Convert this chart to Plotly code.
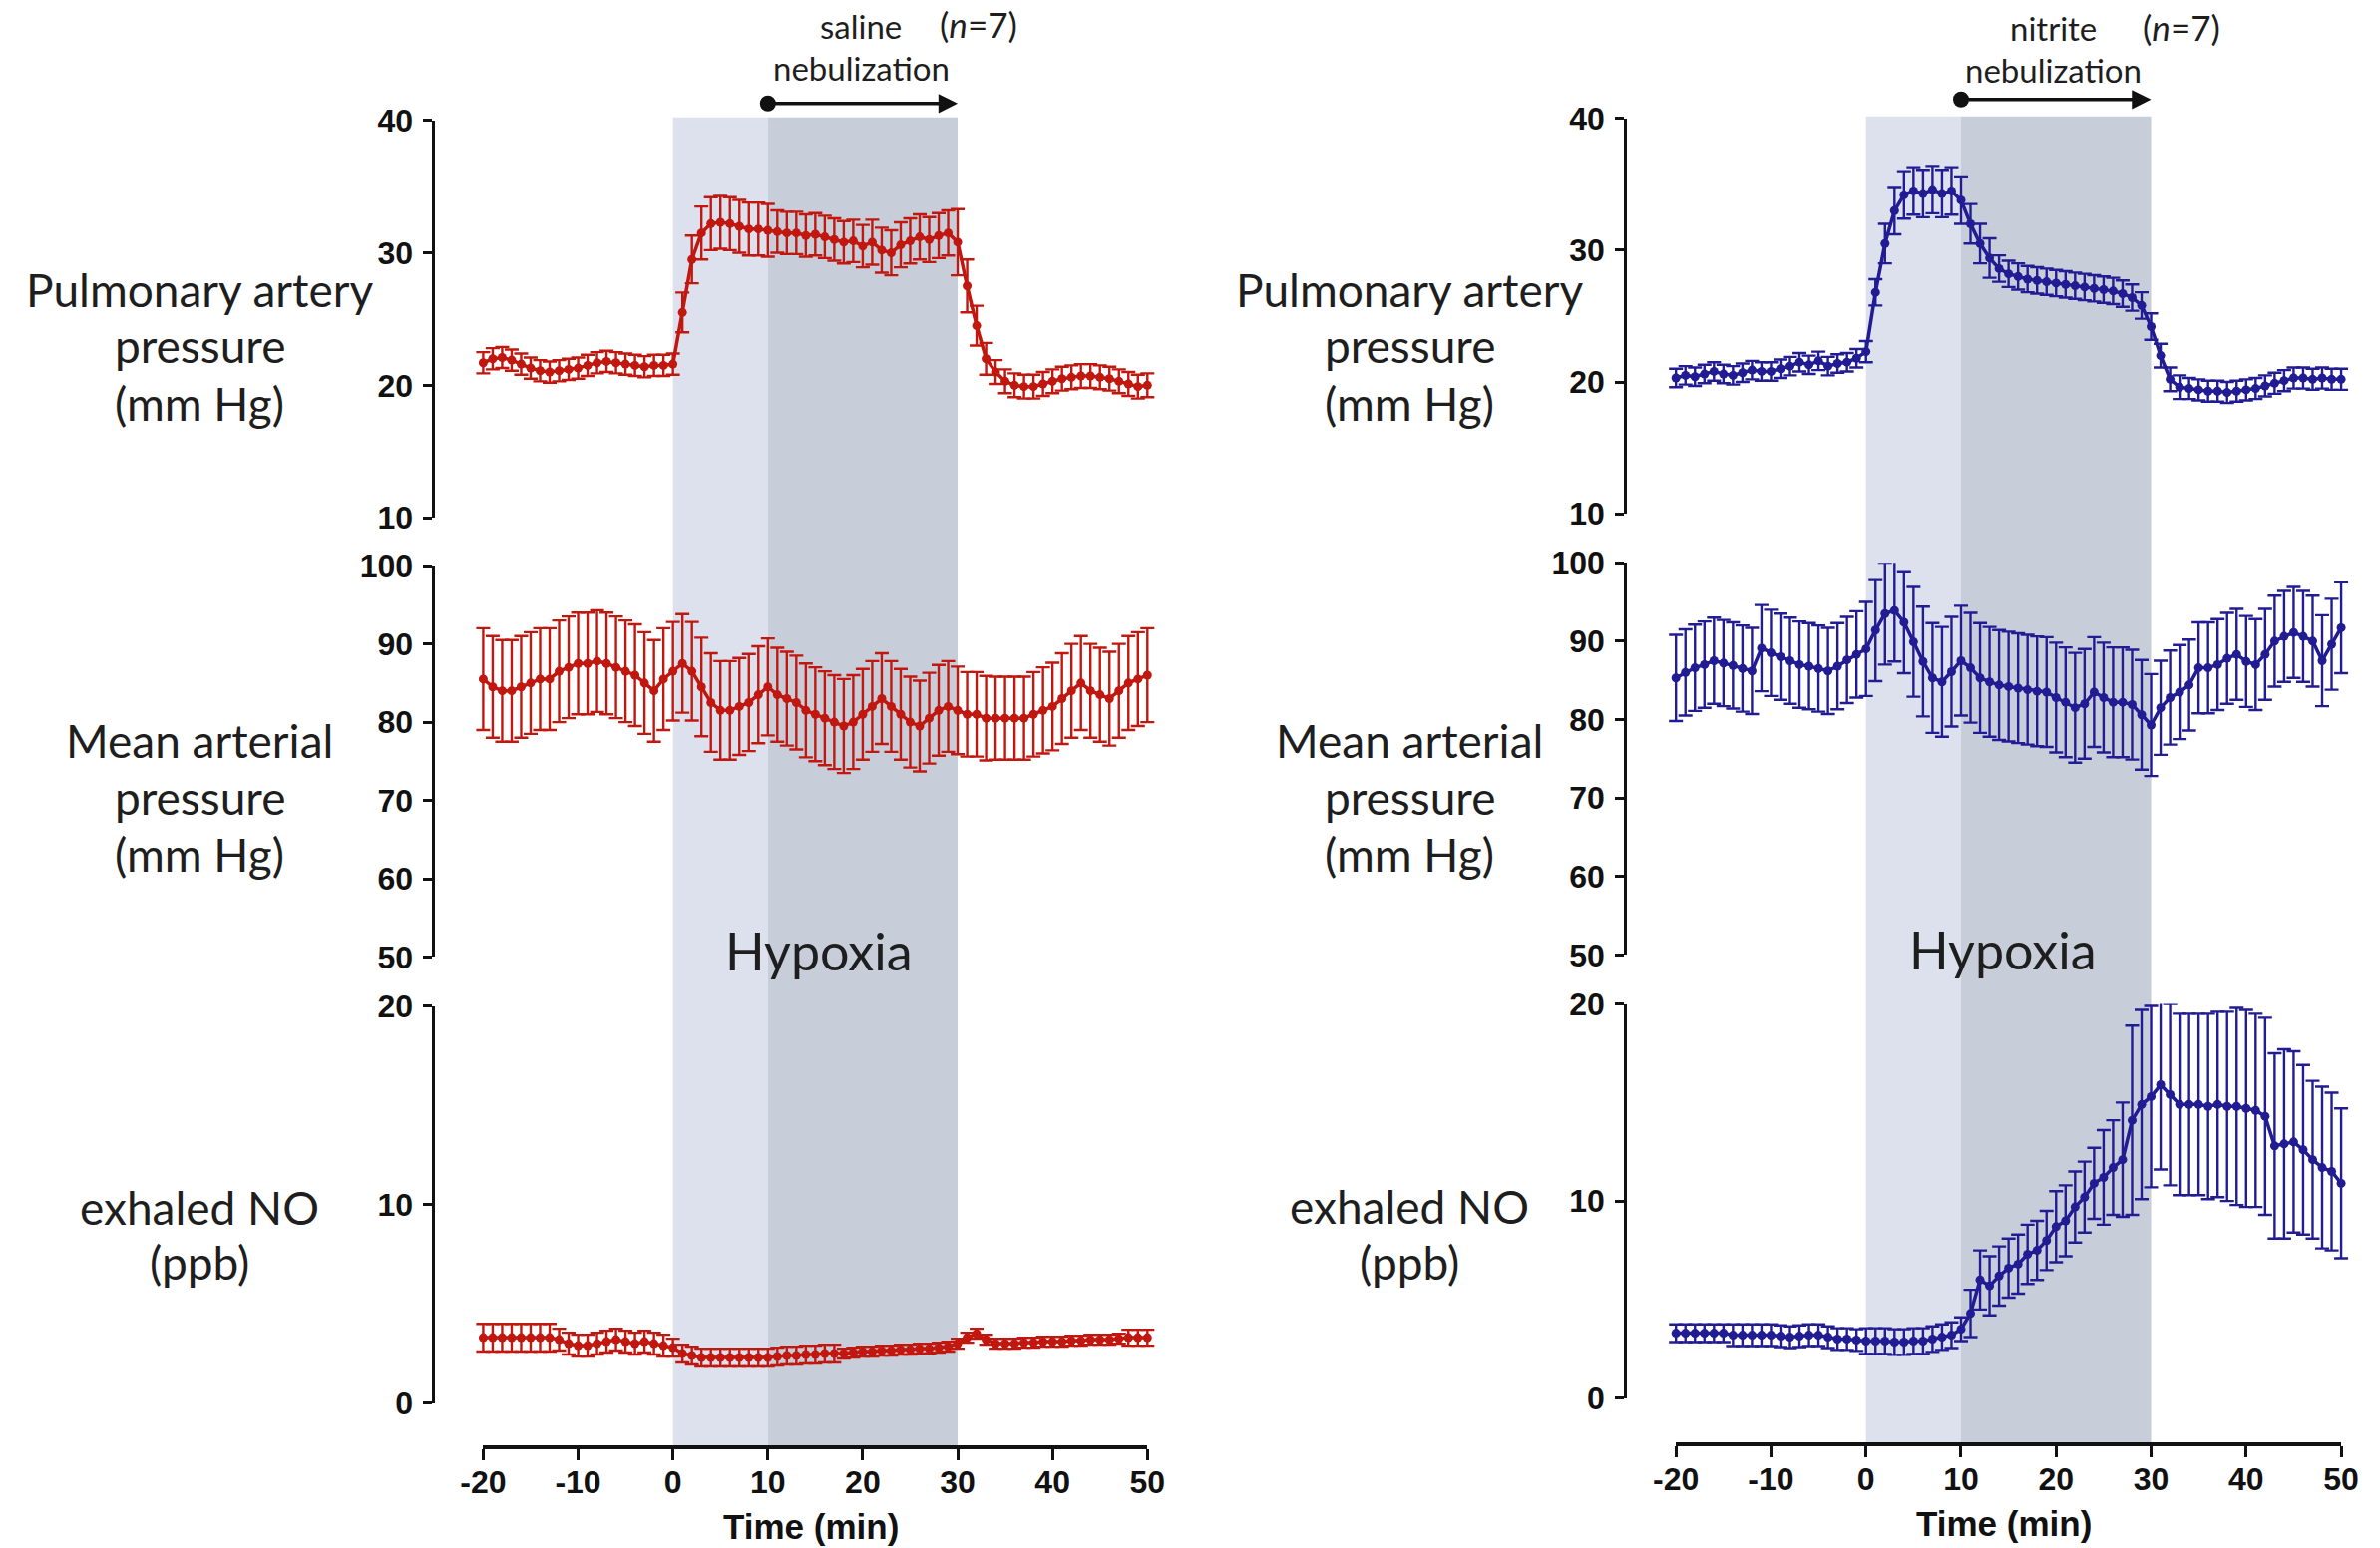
import plotly.graph_objects as go

W, H = 2386, 1552

# ---------------- data ----------------
time_min = list(range(-20, 51))
x_tick_vals = [-20, -10, 0, 10, 20, 30, 40, 50]
x_tick_text = ['-20', '-10', '0', '10', '20', '30', '40', '50']
pap_ticks = [10, 20, 30, 40]
map_ticks = [50, 60, 70, 80, 90, 100]
no_ticks = [0, 10, 20]

saline_pap = [21.7, 22.0, 22.1, 21.9, 21.6, 21.3, 21.1, 21.0, 21.1, 21.2,
              21.3, 21.5, 21.7, 21.8, 21.7, 21.6, 21.5, 21.4, 21.5, 21.5,
              21.6, 25.5, 29.5, 31.5, 32.2, 32.3, 32.2, 32.0, 31.8, 31.8, 31.7,
              31.6, 31.5, 31.5, 31.3, 31.4, 31.2, 31.0, 30.8, 30.9, 30.5,
              30.8, 30.2, 30.0, 30.6, 30.9, 31.2, 31.0, 31.3, 31.5, 30.8,
              27.5, 24.5, 22.0, 21.0, 20.3, 20.0, 19.9, 19.9, 20.1, 20.3,
              20.5, 20.6, 20.7, 20.7, 20.6, 20.5, 20.3, 20.1, 19.9, 20.0]
saline_pap_sem = [0.8, 0.8, 0.8, 0.8, 0.8, 0.8, 0.8, 0.8, 0.8, 0.8,
                  0.8, 0.8, 0.8, 0.8, 0.8, 0.8, 0.8, 0.8, 0.8, 0.8,
                  0.8, 1.5, 1.8, 2.0, 2.0, 2.0, 2.0, 2.0, 2.0, 2.0, 2.0,
                  1.6, 1.6, 1.6, 1.6, 1.6, 1.6, 1.6, 1.6, 1.6, 1.6,
                  1.7, 1.7, 1.7, 1.7, 1.7, 1.7, 1.7, 1.7, 1.7, 2.5,
                  2.0, 1.5, 1.2, 0.9, 0.9, 0.9, 0.9, 0.9, 0.9, 0.9,
                  0.9, 0.9, 0.9, 0.9, 0.9, 0.9, 0.9, 0.9, 0.9, 0.9]

saline_map = [85.5, 84.5, 84.0, 84.0, 84.5, 85.0, 85.5, 85.5, 86.5, 87.0,
              87.5, 87.5, 87.8, 87.5, 87.0, 86.5, 86.0, 85.0, 84.0, 85.5,
              86.5, 87.5, 86.5, 84.5, 82.5, 81.5, 81.5, 82.0, 82.5, 83.5, 84.5,
              83.5, 83.0, 82.5, 81.5, 81.0, 80.5, 80.0, 79.5, 80.0, 81.0,
              82.0, 83.0, 82.0, 81.0, 80.0, 79.5, 80.5, 81.5, 82.0, 81.5,
              81.0, 81.0, 80.5, 80.5, 80.5, 80.5, 80.5, 81.0, 81.5, 82.0,
              83.0, 84.0, 85.0, 84.0, 83.5, 83.0, 84.0, 85.0, 85.5, 86.0]
saline_map_sem = [6.5, 6.5, 6.5, 6.5, 6.5, 6.5, 6.5, 6.5, 6.5, 6.5,
                  6.5, 6.5, 6.5, 6.5, 6.5, 6.5, 6.5, 6.5, 6.5, 6.5,
                  6.3, 6.3, 6.3, 6.3, 6.3, 6.3, 6.3, 6.2, 6.2, 6.2, 6.2,
                  6.0, 6.0, 6.0, 6.0, 6.0, 6.0, 6.0, 6.0, 6.0, 5.8,
                  5.8, 5.8, 5.8, 5.8, 5.8, 5.8, 5.8, 5.8, 5.8, 5.6,
                  5.4, 5.4, 5.4, 5.3, 5.3, 5.3, 5.3, 5.4, 5.5, 5.6,
                  5.8, 6.0, 6.0, 6.0, 6.0, 6.0, 6.0, 6.0, 6.0, 6.0]

saline_no = [3.3, 3.3, 3.3, 3.3, 3.3, 3.3, 3.3, 3.3, 3.2, 3.0,
             2.9, 2.9, 3.0, 3.1, 3.2, 3.1, 3.0, 3.1, 3.0, 2.9,
             2.8, 2.5, 2.4, 2.3, 2.3, 2.3, 2.3, 2.3, 2.3, 2.3, 2.3,
             2.35, 2.4, 2.4, 2.45, 2.45, 2.5, 2.5, 2.5, 2.55, 2.6,
             2.6, 2.65, 2.65, 2.7, 2.7, 2.75, 2.75, 2.8, 2.85, 3.0,
             3.3, 3.5, 3.2, 3.0, 3.0, 3.0, 3.05, 3.05, 3.1, 3.1,
             3.1, 3.15, 3.15, 3.2, 3.2, 3.2, 3.25, 3.3, 3.3, 3.3]
saline_no_sem = [0.7, 0.7, 0.7, 0.7, 0.7, 0.7, 0.7, 0.7, 0.55, 0.55,
                 0.55, 0.55, 0.55, 0.55, 0.55, 0.55, 0.55, 0.55, 0.55, 0.55,
                 0.45, 0.45, 0.45, 0.45, 0.45, 0.45, 0.45, 0.45, 0.45, 0.45, 0.45,
                 0.45, 0.45, 0.45, 0.45, 0.45, 0.45, 0.45, 0.25, 0.25, 0.25,
                 0.25, 0.25, 0.25, 0.25, 0.25, 0.25, 0.25, 0.25, 0.25, 0.25,
                 0.25, 0.25, 0.25, 0.25, 0.25, 0.25, 0.25, 0.25, 0.25, 0.25,
                 0.25, 0.25, 0.25, 0.25, 0.25, 0.25, 0.25, 0.4, 0.4, 0.4]

nitrite_pap = [20.3, 20.5, 20.4, 20.6, 20.8, 20.6, 20.5, 20.7, 20.9, 20.8,
               20.8, 21.0, 21.2, 21.5, 21.3, 21.6, 21.2, 21.4, 21.5, 21.8,
               22.3, 26.8, 30.5, 33.0, 34.2, 34.5, 34.3, 34.6, 34.3, 34.5, 33.8,
               32.0, 30.5, 29.4, 28.6, 28.2, 28.0, 27.8, 27.7, 27.6, 27.5,
               27.4, 27.3, 27.2, 27.1, 27.0, 26.9, 26.7, 26.4, 25.8, 24.2,
               22.0, 20.2, 19.6, 19.5, 19.4, 19.3, 19.3, 19.2, 19.3, 19.4,
               19.5, 19.7, 19.9, 20.1, 20.3, 20.3, 20.2, 20.3, 20.2, 20.2]
nitrite_pap_sem = [0.7, 0.7, 0.7, 0.7, 0.7, 0.7, 0.7, 0.7, 0.7, 0.7,
                   0.7, 0.7, 0.7, 0.7, 0.7, 0.7, 0.7, 0.7, 0.7, 0.7,
                   0.8, 1.0, 1.5, 1.8, 1.8, 1.8, 1.8, 1.8, 1.8, 1.8, 1.8,
                   1.5, 1.5, 1.5, 1.0, 1.0, 1.0, 1.0, 1.0, 1.0, 1.0,
                   1.0, 1.0, 1.0, 1.0, 1.0, 1.0, 1.0, 1.0, 1.0, 1.0,
                   0.9, 0.9, 0.9, 0.8, 0.8, 0.8, 0.8, 0.8, 0.8, 0.8,
                   0.8, 0.8, 0.8, 0.8, 0.8, 0.8, 0.8, 0.8, 0.8, 0.8]

nitrite_map = [85.3, 86.0, 86.6, 87.0, 87.5, 87.2, 86.9, 86.5, 86.2, 89.1,
               88.5, 88.0, 87.5, 87.0, 86.8, 86.5, 86.2, 86.8, 87.6, 88.3,
               89.0, 91.4, 93.5, 93.9, 92.4, 89.9, 87.4, 85.3, 84.8, 86.1, 87.5,
               86.6, 85.3, 84.8, 84.4, 84.2, 84.0, 83.8, 83.6, 83.5, 82.8,
               82.2, 81.5, 82.0, 83.5, 82.8, 82.2, 82.2, 81.9, 80.6, 79.3,
               81.5, 82.8, 83.5, 84.4, 86.6, 86.6, 87.0, 87.8, 88.3, 87.4,
               87.0, 88.3, 90.0, 90.6, 91.1, 90.6, 90.0, 87.5, 89.6, 91.7]
nitrite_map_sem = [5.5, 5.5, 5.5, 5.5, 5.5, 5.5, 5.5, 5.5, 5.5, 5.5,
                   5.5, 5.5, 5.5, 5.5, 5.5, 5.5, 5.5, 5.5, 5.5, 5.5,
                   6.0, 6.5, 6.5, 6.5, 6.5, 7.0, 7.0, 7.0, 7.0, 7.0, 7.0,
                   7.0, 7.0, 7.0, 7.0, 7.0, 7.0, 7.0, 7.0, 7.0, 7.0,
                   7.0, 7.0, 7.0, 7.0, 7.0, 7.0, 7.0, 7.0, 7.0, 6.5,
                   6.0, 6.0, 6.0, 5.8, 5.8, 5.8, 5.8, 5.8, 5.8, 5.8,
                   5.8, 5.8, 5.8, 5.8, 5.8, 5.8, 5.8, 5.8, 5.8, 5.8]

nitrite_no = [3.3, 3.3, 3.3, 3.3, 3.3, 3.3, 3.2, 3.2, 3.2, 3.2,
              3.2, 3.15, 3.1, 3.15, 3.2, 3.2, 3.1, 3.0, 3.0, 2.95,
              2.9, 2.9, 2.9, 2.85, 2.85, 2.9, 2.9, 3.0, 3.1, 3.2, 3.5,
              4.3, 6.0, 5.7, 6.2, 6.6, 6.8, 7.3, 7.5, 8.0, 8.7,
              9.0, 9.7, 10.2, 10.9, 11.2, 11.7, 12.1, 14.1, 14.9, 15.3,
              15.9, 15.4, 14.9, 14.9, 14.9, 14.8, 14.9, 14.8, 14.8, 14.7,
              14.6, 14.3, 12.8, 12.9, 13.0, 12.6, 12.1, 11.7, 11.5, 10.9]
nitrite_no_sem = [0.45, 0.45, 0.45, 0.45, 0.45, 0.45, 0.55, 0.55, 0.55, 0.55,
                  0.55, 0.55, 0.55, 0.55, 0.55, 0.55, 0.55, 0.55, 0.55, 0.55,
                  0.65, 0.65, 0.65, 0.65, 0.65, 0.65, 0.65, 0.65, 0.65, 0.65, 0.6,
                  1.2, 1.5, 1.5, 1.5, 1.5, 1.5, 1.5, 1.5, 1.5, 1.8,
                  1.8, 1.8, 1.8, 1.8, 2.4, 2.4, 2.9, 4.8, 4.8, 4.6,
                  4.3, 4.6, 4.6, 4.6, 4.6, 4.7, 4.7, 4.8, 5.0, 5.0,
                  4.9, 5.0, 4.7, 4.8, 4.6, 4.3, 4.0, 4.1, 4.0, 3.8]

hypoxia_start, nebulization_start, hypoxia_end = 0, 10, 30

title_lines = [['Pulmonary artery', 'pressure', '(mm Hg)'],
               ['Mean arterial', 'pressure', '(mm Hg)'],
               ['exhaled NO', '(ppb)']]

# ---------------- layout helpers ----------------
# target pixel positions (measured on the reference) -> paper fractions,
# compensating the slight scale/offset seen in the captured page
SX, OX = 0.983, 22.5
SY, OY = 0.976, 19.3


def fx(p):
    return ((p - OX) / SX) / W


def fy(p):
    return 1 - ((p - OY) / SY) / H


RED = '#c1170e'
BLUE = '#221c94'
LIGHT = '#dde1ed'
DARK = '#c8cdda'
TXT = '#1e1e1e'
LABEL_FONT = 'Lato, "Open Sans", sans-serif'
TICK_FONT = '"Liberation Sans", Arial, sans-serif'

panels = [
    dict(color=RED, agent='saline', agent_x=19.8, n_x=32.2, hyp_x=15.4,
         series=[(saline_pap, saline_pap_sem, pap_ticks),
                 (saline_map, saline_map_sem, map_ticks),
                 (saline_no, saline_no_sem, no_ticks)],
         yline=436, t_lo=484, t_hi=1150,
         rows=[(122, 520), (568, 960), (1009, 1407)],
         title_rows=[(292, 348, 405), (743, 800, 857), (1211, 1266)],
         xaxis_px=1449, shade_top=119, arrow_px=105, lab1_px=27, lab2_px=69, n_px=25,
         hyp_px=954, time_px=1531, title_x=200),
    dict(color=BLUE, agent='nitrite', agent_x=19.7, n_x=33.2, hyp_x=14.4,
         series=[(nitrite_pap, nitrite_pap_sem, pap_ticks),
                 (nitrite_map, nitrite_map_sem, map_ticks),
                 (nitrite_no, nitrite_no_sem, no_ticks)],
         yline=1631, t_lo=1680, t_hi=2347,
         rows=[(120, 516), (565, 958), (1007, 1402)],
         title_rows=[(292, 348, 405), (743, 800, 857), (1210, 1266)],
         xaxis_px=1446, shade_top=118, arrow_px=101, lab1_px=29, lab2_px=71, n_px=28,
         hyp_px=953, time_px=1528, title_x=1413),
]

fig = go.Figure()
layout = dict(width=W, height=H, margin=dict(l=0, r=0, t=0, b=0),
              paper_bgcolor='white', plot_bgcolor='rgba(0,0,0,0)',
              showlegend=False)
annotations = []
shapes = []

ax_n = 0
for p in panels:
    ppm = (p['t_hi'] - p['t_lo']) / (x_tick_vals[-1] - x_tick_vals[0])
    t_left = x_tick_vals[0] - (p['t_lo'] - p['yline']) / ppm
    t_right = x_tick_vals[-1] + 1.0
    right_px = p['t_hi'] + 1.0 * ppm
    for i, (vals, sem, ticks) in enumerate(p['series']):
        ax_n += 1
        xs = '' if ax_n == 1 else str(ax_n)
        top_px, bot_px = p['rows'][i]
        layout['xaxis' + xs] = dict(domain=[fx(p['yline']), fx(right_px)],
                                    range=[t_left, t_right], visible=False,
                                    anchor='y' + xs, showgrid=False, zeroline=False)
        layout['yaxis' + xs] = dict(domain=[fy(bot_px), fy(top_px)],
                                    range=[ticks[0], ticks[-1]], anchor='x' + xs,
                                    showline=True, linecolor='#111', linewidth=3,
                                    ticks='outside', ticklen=9, tickwidth=3, tickcolor='#111',
                                    tickvals=ticks, showgrid=False, zeroline=False,
                                    tickfont=dict(family=TICK_FONT, size=32, color='#111', weight='bold'),
                                    ticklabelstandoff=4)
        fig.add_trace(go.Scatter(
            x=time_min, y=vals, xaxis='x' + xs, yaxis='y' + xs,
            mode='lines+markers', cliponaxis=False,
            line=dict(color=p['color'], width=3.5),
            marker=dict(color=p['color'], size=9),
            error_y=dict(type='data', array=sem, visible=True,
                         color=p['color'], thickness=2.4, width=7),
            hoverinfo='skip'))
        for line_text, line_px in zip(title_lines[i], p['title_rows'][i]):
            annotations.append(dict(text=line_text, xref='paper', yref='paper',
                                    x=fx(p['title_x']), y=fy(line_px),
                                    xanchor='center', yanchor='middle', showarrow=False,
                                    font=dict(family=LABEL_FONT, size=46, color=TXT)))
    # bottom time axis
    ax_n += 1
    bx = str(ax_n)
    layout['xaxis' + bx] = dict(domain=[fx(p['t_lo']), fx(p['t_hi'])],
                                range=[x_tick_vals[0], x_tick_vals[-1]], anchor='y' + bx,
                                showline=True, linecolor='#111', linewidth=3.5,
                                ticks='outside', ticklen=11, tickwidth=3, tickcolor='#111',
                                tickvals=x_tick_vals, ticktext=x_tick_text,
                                showgrid=False, zeroline=False, ticklabelstandoff=-5,
                                tickfont=dict(family=TICK_FONT, size=32, color='#111', weight='bold'))
    layout['yaxis' + bx] = dict(domain=[fy(p['xaxis_px']), fy(p['xaxis_px'] - 4)],
                                range=[0, 1], visible=False, anchor='x' + bx)
    fig.add_trace(go.Scatter(x=[x_tick_vals[0], x_tick_vals[-1]], y=[0, 0],
                             xaxis='x' + bx, yaxis='y' + bx, mode='markers',
                             marker=dict(opacity=0), hoverinfo='skip'))
    # row for nebulization arrow
    ax_n += 1
    ay = str(ax_n)
    layout['yaxis' + ay] = dict(domain=[fy(p['arrow_px'] + 6), fy(p['arrow_px'] - 6)],
                                range=[-1, 1], visible=False, anchor='x' + bx)
    fig.add_trace(go.Scatter(x=[nebulization_start], y=[0], xaxis='x' + bx, yaxis='y' + ay,
                             mode='markers', cliponaxis=False,
                             marker=dict(color='#111', size=16), hoverinfo='skip'))
    annotations.append(dict(x=hypoxia_end, y=0, xref='x' + bx, yref='y' + ay,
                            ax=nebulization_start, ay=0, axref='x' + bx, ayref='pixel',
                            text='', showarrow=True, arrowhead=2, arrowsize=1.1,
                            arrowwidth=3.5, arrowcolor='#111', standoff=0, startstandoff=0))
    # shading for hypoxia / nebulization
    shapes.append(dict(type='rect', xref='x' + bx, yref='paper',
                       x0=hypoxia_start, x1=nebulization_start,
                       y0=fy(p['xaxis_px']), y1=fy(p['shade_top']),
                       fillcolor=LIGHT, line=dict(width=0), layer='below'))
    shapes.append(dict(type='rect', xref='x' + bx, yref='paper',
                       x0=nebulization_start, x1=hypoxia_end,
                       y0=fy(p['xaxis_px']), y1=fy(p['shade_top']),
                       fillcolor=DARK, line=dict(width=0), layer='below'))
    annotations.append(dict(text='Hypoxia', x=p['hyp_x'], xref='x' + bx, y=fy(p['hyp_px']),
                            yref='paper', showarrow=False, xanchor='center', yanchor='middle',
                            font=dict(family=LABEL_FONT, size=52, color=TXT)))
    annotations.append(dict(text='Time (min)', x=14.5, xref='x' + bx, y=fy(p['time_px']),
                            yref='paper', showarrow=False, xanchor='center', yanchor='middle',
                            font=dict(family=TICK_FONT, size=35, color='#111', weight='bold')))
    annotations.append(dict(text=p['agent'], x=p['agent_x'], xref='x' + bx, y=fy(p['lab1_px']),
                            yref='paper', showarrow=False, xanchor='center', yanchor='middle',
                            font=dict(family=LABEL_FONT, size=33, color=TXT)))
    annotations.append(dict(text='nebulization', x=p['agent_x'], xref='x' + bx, y=fy(p['lab2_px']),
                            yref='paper', showarrow=False, xanchor='center', yanchor='middle',
                            font=dict(family=LABEL_FONT, size=33, color=TXT)))
    annotations.append(dict(text='(<i>n</i>=7)', x=p['n_x'], xref='x' + bx, y=fy(p['n_px']),
                            yref='paper', showarrow=False, xanchor='center', yanchor='middle',
                            font=dict(family=LABEL_FONT, size=35, color=TXT)))

layout['annotations'] = annotations
layout['shapes'] = shapes
fig.update_layout(**layout)
fig.write_html('out.html')
